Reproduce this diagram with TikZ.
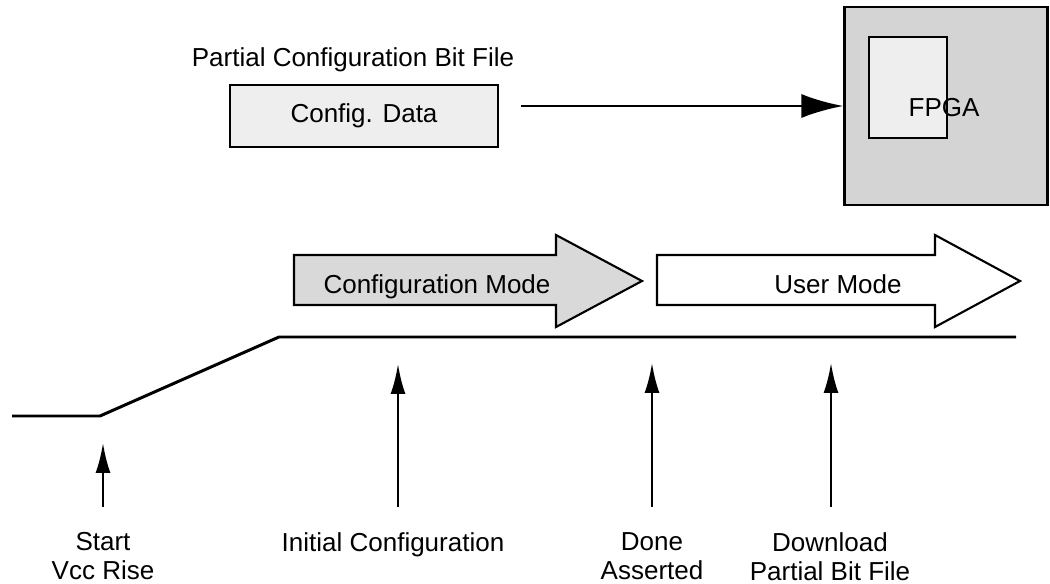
\documentclass[tikz,border=0pt]{standalone}
\usepackage{fontspec}
\setmainfont{Liberation Sans}
\usetikzlibrary{arrows.meta,positioning,calc}
\definecolor{data}{HTML}{EEEEEE}
\definecolor{chip}{HTML}{D4D4D4}
\definecolor{mode}{HTML}{D9D9D9}
\tikzset{box/.style={draw=black,line width=1.2pt,align=center,inner sep=0pt,font=\fontsize{14.8}{17}\selectfont},modearrow/.style={draw=black,line width=1.2pt,line join=miter},arrow/.style={-{Latex[length=8.4mm,width=4.8mm]},line width=1.7pt},up/.style={-{Latex[length=6mm,width=3mm]},line width=1.4pt},lab/.style={font=\fontsize{14.8}{16.5}\selectfont,align=center,inner sep=0pt}}
\begin{document}
\begin{tikzpicture}[x=0.02cm,y=-0.02cm]
\useasboundingbox (0,0) rectangle (1050,584);
\node[lab,anchor=base] (bitfile) at (353,67) {Partial Configuration Bit File};
\node[box,fill=data,minimum width=5.36cm,minimum height=1.24cm] (data) at (364,116) {Config. Data};
\node[box,fill=chip,minimum width=4.06cm,minimum height=3.96cm] (fpga) at (946,106) {};
\node[box,fill=data,minimum width=1.56cm,minimum height=2.02cm] (slot) at (908,87.5) {};
\node[lab,anchor=base] (chiptxt) at (944,117) {FPGA};
\draw[arrow,shorten <=4.4mm](data.east |- fpga.west)--(fpga.west);
% mode arrows
\filldraw[modearrow,fill=mode] (294,255)--(556,255)--(556,235)--(642,281)--(556,327)--(556,305)--(294,305)--cycle;
\filldraw[modearrow,fill=white] (657,255)--(935,255)--(935,235)--(1020,281)--(935,327)--(935,305)--(657,305)--cycle;
\node[lab,anchor=base] (cfgmode) at (437,293) {Configuration Mode};
\node[lab,anchor=base] (usermode) at (838,293) {User Mode};
% supply ramp
\draw[line width=1.7pt,line join=miter] (12,416)--(100,416)--(279,337)--(1016,337);
\foreach \i/\x/\lx/\y/\txt in {0/103/103/443/{Start\\Vcc Rise},1/398/393/364/{Initial Configuration},2/652/652/363/{Done\\Asserted},3/831/830/363/{Download\\Partial Bit File}}{\node[lab,anchor=north] (lab\i) at (\lx,532) {\txt};\coordinate (tip\i) at (\x,\y);\draw[up,shorten <=5mm](lab\i.north -| tip\i)--(tip\i);}
\end{tikzpicture}
\end{document}
